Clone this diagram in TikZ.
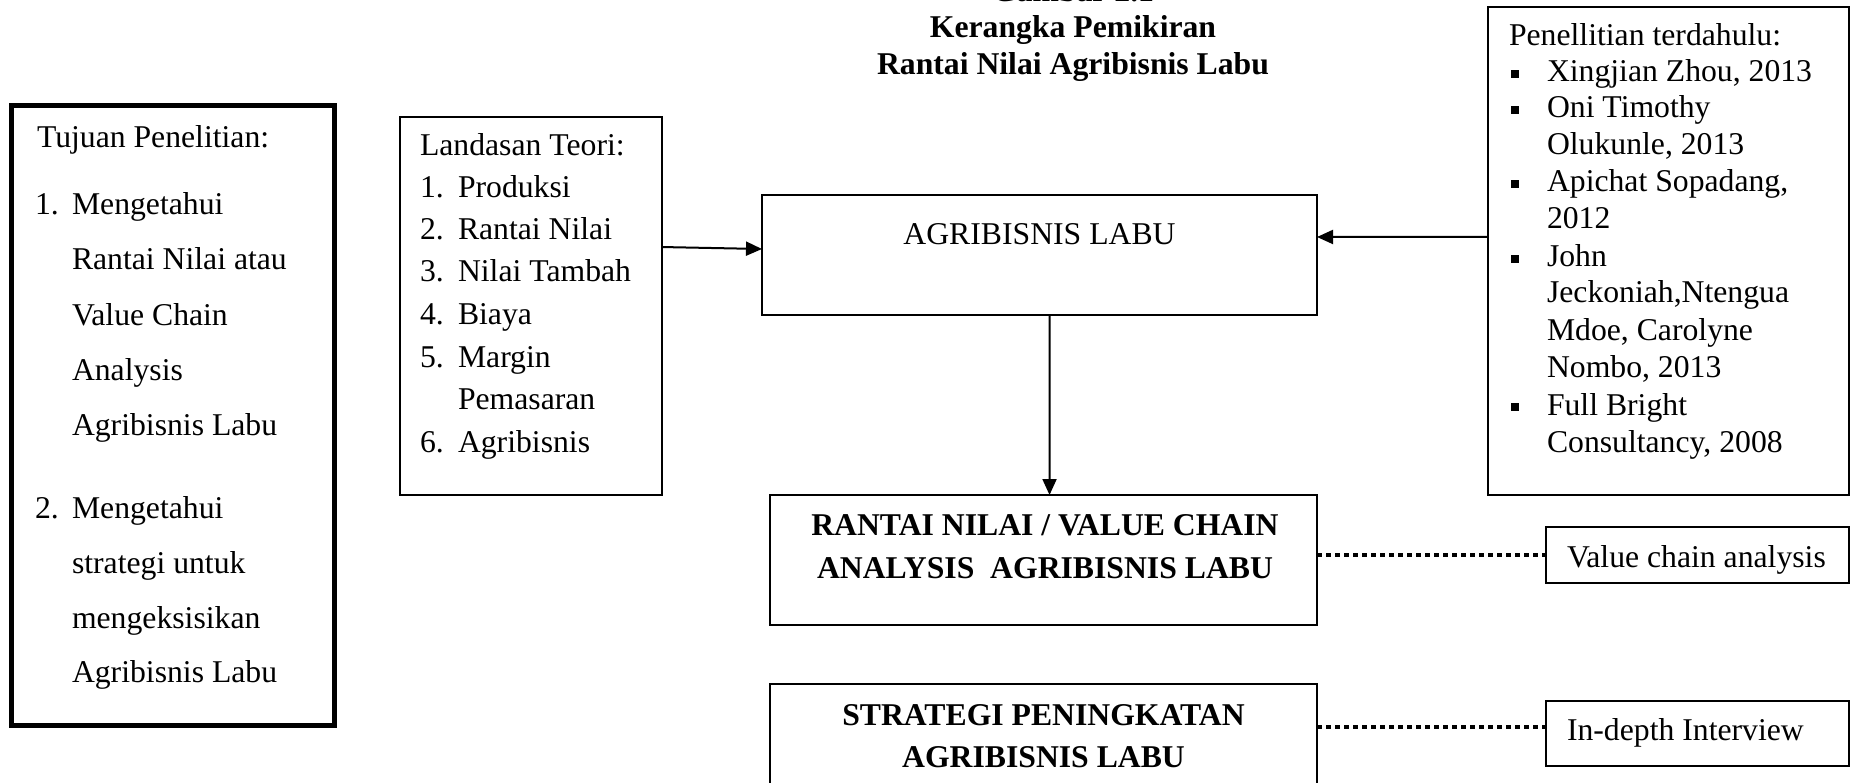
\documentclass[tikz,border=0pt]{standalone}
\usepackage{fontspec}
\setmainfont{Liberation Serif}
\usetikzlibrary{arrows.meta,fit,calc}
\tikzset{
  txt/.style={anchor=base west, inner sep=0pt, outer sep=0pt},
  ctxt/.style={anchor=base, inner sep=0pt, outer sep=0pt},
  box/.style={draw, line width=2pt, inner sep=0pt, outer sep=0pt},
  thickbox/.style={draw, line width=5pt, inner sep=0pt, outer sep=0pt},
  arr/.style={line width=2pt, -{Triangle[length=16pt,width=14pt]}},
  dotline/.style={line width=4.5pt, dash pattern=on 5pt off 4pt},
  bul/.style={fill=black, minimum size=8pt, inner sep=0pt, outer sep=0pt},
  bf/.style={font=\fontsize{31.7pt}{36.5pt}\selectfont\bfseries}
}
\begin{document}
\begin{tikzpicture}[x=1pt,y=-1pt,
  every node/.append style={font=\fontsize{31.7pt}{36.5pt}\selectfont}]
\useasboundingbox (0,0) rectangle (1851,783);

% title
\node[ctxt,bf] (ti1) at (1073,2) {Gambar 2.1};
\node[ctxt,bf] (ti2) at (1073,38) {Kerangka Pemikiran};
\node[ctxt,bf] (ti3) at (1073,75) {Rantai Nilai Agribisnis Labu};

% boxes
\node[thickbox, fit={(11.5,105.5) (334.5,725.5)}] (tuj) {};
\node[box, fit={(400,117) (662,495)}] (lan) {};
\node[box, fit={(762,195) (1317,315)}] (agr) {};
\node[box, fit={(1488,7) (1849,495)}] (pen) {};
\node[box, fit={(770,495) (1317,625)}] (rnt) {};
\node[box, fit={(770,684) (1317,814)}] (str) {};
\node[box, fit={(1546,527) (1849,583)}] (vca) {};
\node[box, fit={(1546,701) (1849,766)}] (idi) {};

% Tujuan Penelitian
\node[txt] (tj0) at (37,148) {Tujuan Penelitian:};
\node[txt] (tj1n) at (35,215) {1.};
\node[txt] (tj1) at (72,215) {Mengetahui};
\node[txt] (tj2) at (72,270) {Rantai Nilai atau};
\node[txt] (tj3) at (72,325) {Value Chain};
\node[txt] (tj4) at (72,380) {Analysis};
\node[txt] (tj5) at (72,435) {Agribisnis Labu};
\node[txt] (tj6n) at (35,518) {2.};
\node[txt] (tj6) at (72,518) {Mengetahui};
\node[txt] (tj7) at (72,573) {strategi untuk};
\node[txt] (tj8) at (72,628) {mengeksisikan};
\node[txt] (tj9) at (72,682) {Agribisnis Labu};

% Landasan Teori
\node[txt] (la0) at (420,156) {Landasan Teori:};
\node[txt] (la1n) at (420,198) {1.};
\node[txt] (la1) at (458,198) {Produksi};
\node[txt] (la2n) at (420,240) {2.};
\node[txt] (la2) at (458,240) {Rantai Nilai};
\node[txt] (la3n) at (420,282) {3.};
\node[txt] (la3) at (458,282) {Nilai Tambah};
\node[txt] (la4n) at (420,324) {4.};
\node[txt] (la4) at (458,324) {Biaya};
\node[txt] (la5n) at (420,367) {5.};
\node[txt] (la5) at (458,367) {Margin};
\node[txt] (la6) at (458,409) {Pemasaran};
\node[txt] (la7n) at (420,452) {6.};
\node[txt] (la7) at (458,452) {Agribisnis};

% Penelitian terdahulu
\node[txt] (pe0) at (1509,46) {Penellitian terdahulu:};
\node[txt] (pe1) at (1547,82) {Xingjian Zhou, 2013};
\node[txt] (pe2) at (1547,118) {Oni Timothy};
\node[txt] (pe3) at (1547,155) {Olukunle, 2013};
\node[txt] (pe4) at (1547,192) {Apichat Sopadang,};
\node[txt] (pe5) at (1547,229) {2012};
\node[txt] (pe6) at (1547,267) {John};
\node[txt] (pe7) at (1547,303) {Jeckoniah,Ntengua};
\node[txt] (pe8) at (1547,340) {Mdoe, Carolyne};
\node[txt] (pe9) at (1547,377) {Nombo, 2013};
\node[txt] (pe10) at (1547,415) {Full Bright};
\node[txt] (pe11) at (1547,452) {Consultancy, 2008};
\node[bul] (b1) at (1515,74) {};
\node[bul] (b2) at (1515,110) {};
\node[bul] (b3) at (1515,184) {};
\node[bul] (b4) at (1515,259) {};
\node[bul] (b5) at (1515,407) {};

% centre boxes text
\node[ctxt] (ag0) at (1039.5,245) {AGRIBISNIS LABU};
\node[ctxt,bf] (rn1) at (1045,535) {RANTAI NILAI / VALUE CHAIN};
\node[ctxt,bf] (rn2) at (1045,578) {ANALYSIS\ \ AGRIBISNIS LABU};
\node[ctxt,bf] (st1) at (1043.5,725) {STRATEGI PENINGKATAN};
\node[ctxt,bf] (st2) at (1043.5,767) {AGRIBISNIS LABU};
\node[txt] (vc0) at (1567,567) {Value chain analysis};
\node[txt] (id0) at (1567,740) {In-depth Interview};

% connectors
\draw[arr] ($(lan.north east)!0.344!(lan.south east)$) -- ($(agr.north west)!0.45!(agr.south west)$);
\draw[arr] ($(pen.north west)!0.471!(pen.south west)$) -- ($(agr.north east)!0.35!(agr.south east)$);
\draw[arr] ($(agr.south west)!0.518!(agr.south east)$) -- ($(rnt.north west)!0.511!(rnt.north east)$);
\draw[dotline] (rnt.east |- vca.west) -- (vca.west);
\coordinate (idp) at ($(idi.north west)!0.4!(idi.south west)$);
\draw[dotline] (str.east |- idp) -- (idp);
\end{tikzpicture}
\end{document}
